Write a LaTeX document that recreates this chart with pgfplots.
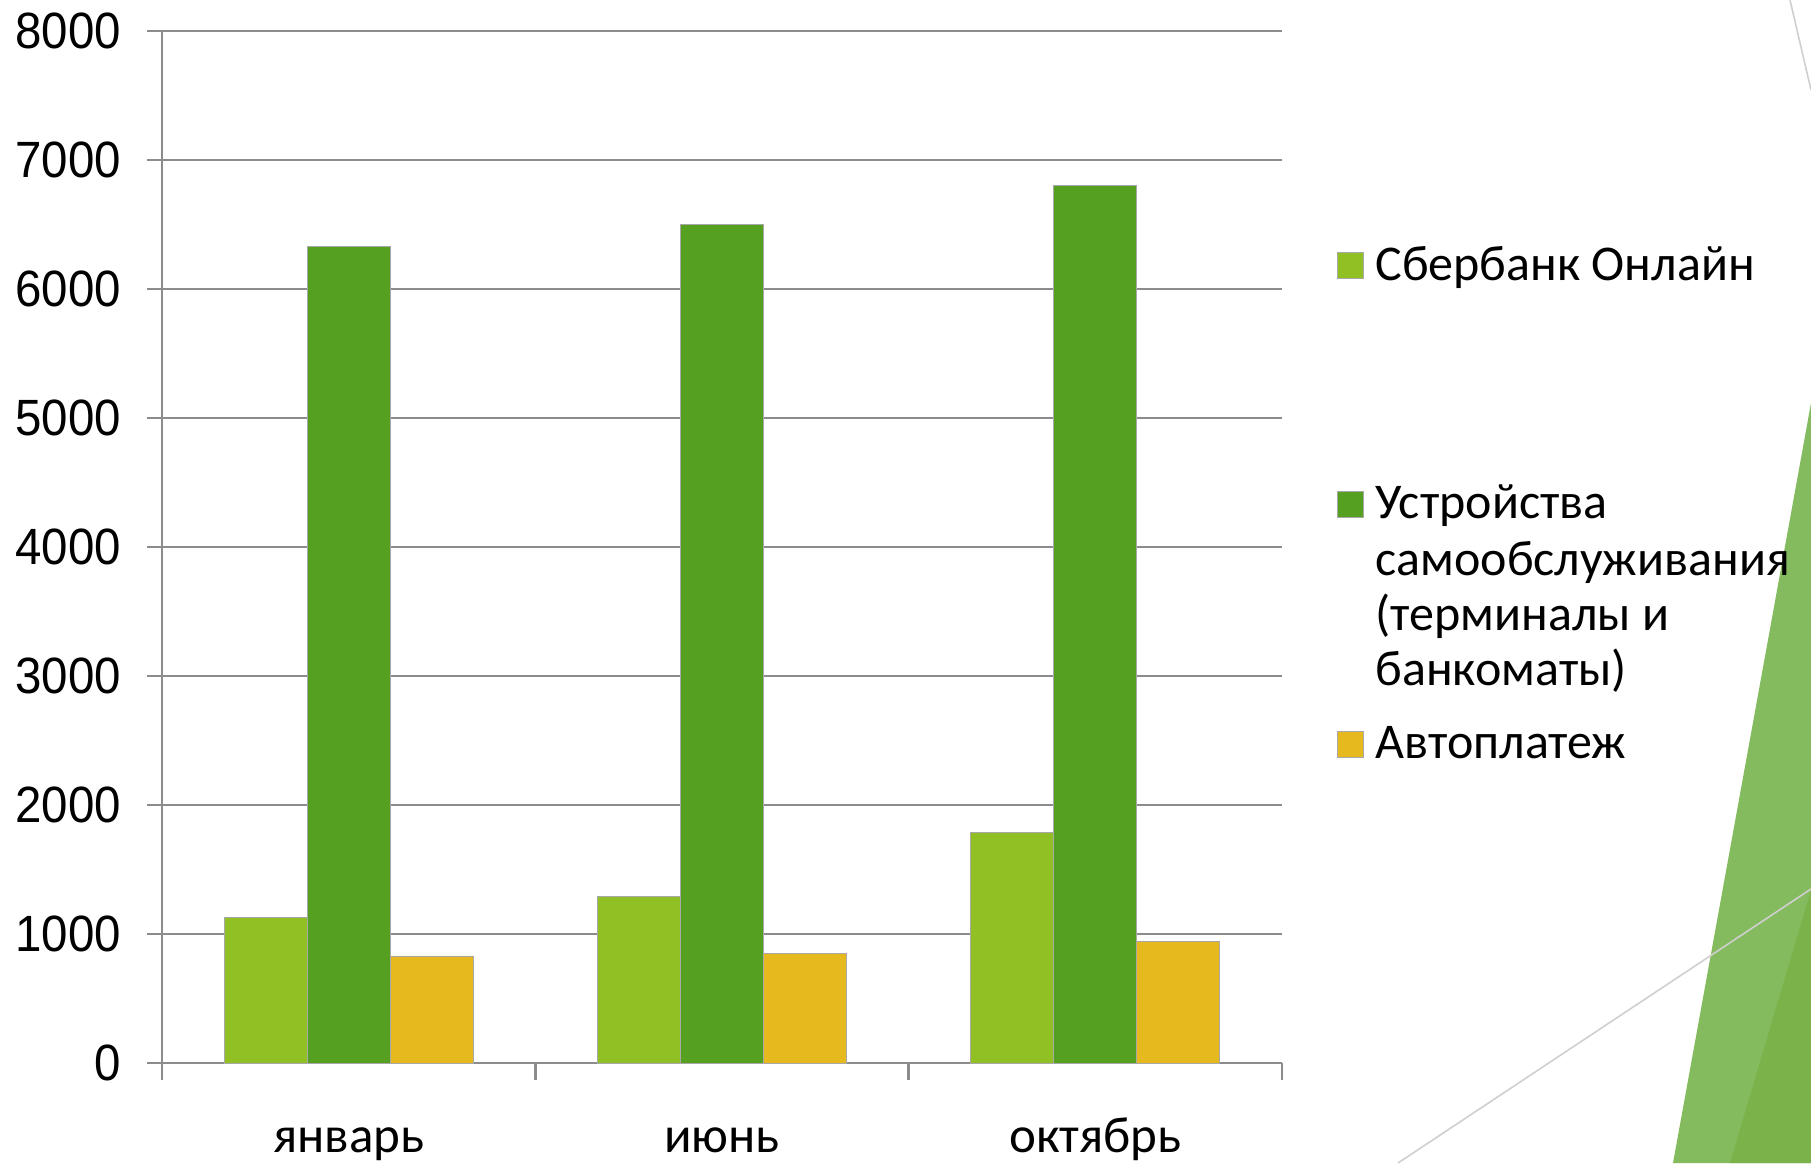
\documentclass[border=0pt]{standalone}
\usepackage{fontspec}
\setmainfont{Carlito}
\newfontfamily\numfont[FakeStretch=0.93]{Liberation Sans}
\usepackage{pgfplots}
\pgfplotsset{compat=1.18}

\definecolor{sbon}{HTML}{91C024}
\definecolor{dev}{HTML}{55A021}
\definecolor{autop}{HTML}{E6B91F}
\definecolor{axgray}{HTML}{8C8C8C}
\definecolor{bargray}{HTML}{A8A8A8}
\definecolor{decoA}{HTML}{84BB5E}
\definecolor{decoB}{HTML}{7BB34A}
\definecolor{decoline}{HTML}{CFCFCF}

\begin{document}
\begin{tikzpicture}
\useasboundingbox (0,0) rectangle (905.5pt,-581.5pt);

% slide decoration on the right
\begin{scope}[x=0.5pt,y=-0.5pt]
\fill[decoA] (1811,403) -- (1811,1163) -- (1673,1163) -- cycle;
\fill[decoB] (1811,890) -- (1811,1163) -- (1730,1163) -- cycle;
\draw[decoline, line width=0.8pt] (1398,1163) -- (1811,889);
\draw[decoline, line width=0.8pt] (1790,0) -- (1811,90);
\end{scope}

\begin{axis}[
at={(81pt,-531.5pt)},
anchor=south west,
scale only axis,
width=560pt,
height=516pt,
xmin=0.5, xmax=3.5,
ymin=0, ymax=8000,
axis x line*=bottom,
axis y line*=left,
axis line style={draw=axgray, line width=1.2pt},
ytick={0,1000,...,8000},
ymajorgrids,
major grid style={draw=axgray, line width=1.2pt},
xtick={1,2,3},
xticklabels={январь,июнь,октябрь},
minor xtick={0.5,1.5,2.5,3.5},
tick align=outside,
major x tick style={draw=none},
minor x tick style={draw=axgray, line width=1.2pt},
ytick style={draw=axgray, line width=1.2pt},
minor tick length=8.5pt,
major tick length=7.5pt,
scaled y ticks=false,
/pgf/number format/set thousands separator={},
/pgf/number format/assume math mode=true,
yticklabel style={font=\numfont\fontsize{25.5}{30}\selectfont, anchor=east, xshift=-9.5pt},
xticklabel style={font=\fontsize{25.5}{30}\selectfont, anchor=base, yshift=-37pt},
ybar=0pt,
bar width=41.5pt,
clip=false,
]
\addplot[fill=sbon, draw=bargray, line width=0.4pt] coordinates {(1,1130) (2,1290) (3,1790)};
\addplot[fill=dev, draw=bargray, line width=0.4pt] coordinates {(1,6330) (2,6500) (3,6800)};
\addplot[fill=autop, draw=bargray, line width=0.4pt] coordinates {(1,830) (2,850) (3,945)};
\end{axis}

% legend
\begin{scope}[x=0.5pt,y=-0.5pt, every node/.style={anchor=base west, inner sep=0pt, font=\fontsize{25}{28}\selectfont}]
\filldraw[fill=sbon, draw=bargray, line width=0.4pt] (1337,252) rectangle (1363,278);
\node at (1375,280) {Сбербанк Онлайн};
\filldraw[fill=dev, draw=bargray, line width=0.4pt] (1337,491) rectangle (1363,517);
\node at (1375,518) {Устройства};
\node at (1375,575) {самообслуживания};
\node at (1375,630) {(терминалы и};
\node at (1375,685) {банкоматы)};
\filldraw[fill=autop, draw=bargray, line width=0.4pt] (1337,731) rectangle (1363,757);
\node at (1375,758) {Автоплатеж};
\end{scope}
\end{tikzpicture}
\end{document}
